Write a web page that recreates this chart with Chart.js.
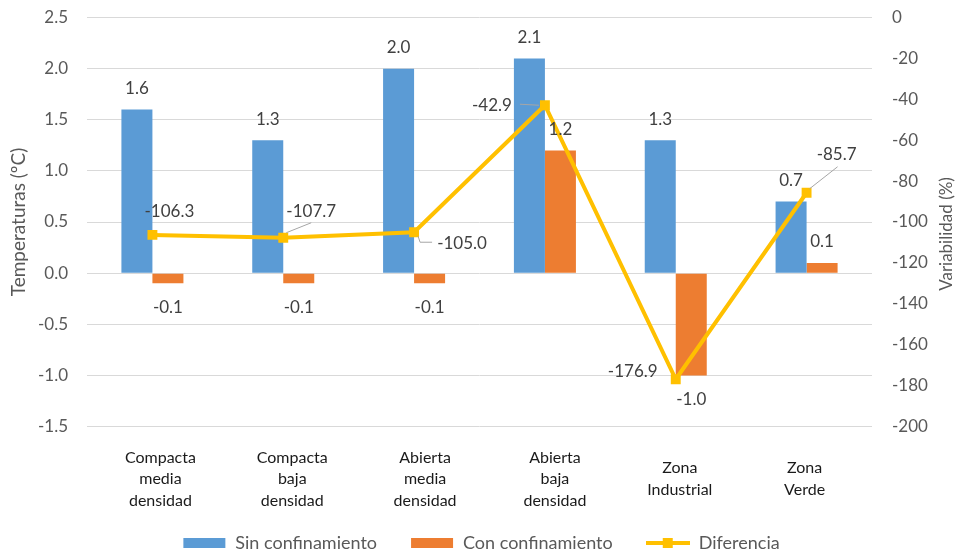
<!DOCTYPE html>
<html lang="es">
<head>
<meta charset="utf-8">
<title>Temperaturas y variabilidad por zona</title>
<script src="https://cdn.jsdelivr.net/npm/chart.js@4.4.1/dist/chart.umd.min.js"></script>
<style>
  html, body { margin: 0; padding: 0; background: #fff; }
</style>
</head>
<body>
<canvas id="grafico" width="962" height="552"></canvas>
<script>
//DATOS
const zonas = [
  ["Compacta", "media", "densidad"],
  ["Compacta", "baja", "densidad"],
  ["Abierta", "media", "densidad"],
  ["Abierta", "baja", "densidad"],
  ["Zona", "Industrial"],
  ["Zona", "Verde"],
];
const sinConfinamiento = [1.6, 1.3, 2.0, 2.1, 1.3, 0.7];
const conConfinamiento = [-0.1, -0.1, -0.1, 1.2, -1.0, 0.1];
const diferencia = [-106.3, -107.7, -105.0, -42.9, -176.9, -85.7];
const ticksTemperatura = [-1.5, -1.0, -0.5, 0.0, 0.5, 1.0, 1.5, 2.0, 2.5];
const ticksVariabilidad = [-200, -180, -160, -140, -120, -100, -80, -60, -40, -20, 0];

//COLORES
const AZUL = "#5B9BD5";
const NARANJA = "#ED7D31";
const AMARILLO = "#FFC000";
const GRIS_TEXTO = "#595959";
const GRIS_ETIQUETA = "#404040";
const GRIS_REJILLA = "#D9D9D9";

Chart.defaults.font.family = "Lato";

//FUNCIONES
// muestras de la leyenda: rectángulo para barras, línea con marcador para la serie
function muestra(tipo, color) {
  const c = document.createElement("canvas");
  c.width = 44;
  c.height = 12;
  const g = c.getContext("2d");
  g.fillStyle = color;
  if (tipo === "barra") {
    g.fillRect(1, 1, 42, 10);
  } else {
    g.fillRect(0, 4, 44, 4);
    g.fillRect(17, 1, 10, 10);
  }
  return c;
}
const muestras = [muestra("barra", AZUL), muestra("barra", NARANJA), muestra("linea", AMARILLO)];

// sin margen extra arriba/abajo para las etiquetas de los ejes verticales
function ajustarVertical(ancho) {
  return (scale) => {
    scale.width = ancho;
    scale.paddingTop = 0;
    scale.paddingBottom = 0;
  };
}

const etiquetas = {
  id: "etiquetas",
  afterDatasetsDraw(chart, args, opts) {
    const ctx = chart.ctx;
    ctx.save();
    ctx.font = "17px Lato";
    ctx.fillStyle = GRIS_ETIQUETA;
    ctx.textAlign = "center";
    ctx.textBaseline = "middle";
    [0, 1].forEach((d) => {
      const valores = chart.data.datasets[d].data;
      chart.getDatasetMeta(d).data.forEach((barra, i) => {
        const v = valores[i];
        const y = v >= 0 ? barra.y - 21 : barra.y + 24;
        ctx.fillText(v.toFixed(1), barra.x, y);
      });
    });
    const serie = chart.data.datasets[2].data;
    chart.getDatasetMeta(2).data.forEach((p, i) => {
      const guia = opts.guias[i];
      if (guia) {
        ctx.strokeStyle = "#A6A6A6";
        ctx.lineWidth = 1;
        ctx.beginPath();
        guia.forEach(([gx, gy], k) => {
          if (k === 0) ctx.moveTo(p.x + gx, p.y + gy);
          else ctx.lineTo(p.x + gx, p.y + gy);
        });
        ctx.stroke();
      }
      const [dx, dy] = opts.desplazamientos[i];
      ctx.fillText(serie[i].toFixed(1), p.x + dx, p.y + dy);
    });
    ctx.restore();
  },
  afterDraw(chart, args, opts) {
    const ctx = chart.ctx;
    const ejeX = chart.scales.x;
    const area = chart.chartArea;
    ctx.save();
    // nombres de las zonas, centrados verticalmente
    ctx.font = "16px Lato";
    ctx.fillStyle = "#1A1A1A";
    ctx.textAlign = "center";
    ctx.textBaseline = "middle";
    zonas.forEach((lineas, i) => {
      const x = ejeX.getPixelForValue(i) + opts.corrimientoZonas[i];
      const y0 = ejeX.top + 52.5 - ((lineas.length - 1) * 21.5) / 2;
      lineas.forEach((t, k) => ctx.fillText(t, x, y0 + k * 21.5));
    });
    // título del eje derecho, de abajo hacia arriba
    ctx.font = "17px Lato";
    ctx.fillStyle = GRIS_TEXTO;
    ctx.translate(947, (area.top + area.bottom) / 2 + 12);
    ctx.rotate(-Math.PI / 2);
    ctx.fillText("Variabilidad (%)", 0, 0);
    ctx.restore();
  },
};

const data = {
  labels: zonas,
  datasets: [
    {
      type: "bar",
      label: "Sin confinamiento",
      data: sinConfinamiento,
      backgroundColor: AZUL,
      yAxisID: "y",
      order: 1,
    },
    {
      type: "bar",
      label: "Con confinamiento",
      data: conConfinamiento,
      backgroundColor: NARANJA,
      yAxisID: "y",
      order: 1,
    },
    {
      type: "line",
      label: "Diferencia",
      data: diferencia,
      borderColor: AMARILLO,
      backgroundColor: AMARILLO,
      borderWidth: 4,
      pointStyle: "rect",
      pointRadius: 7,
      pointBorderWidth: 0,
      tension: 0,
      yAxisID: "y2",
      order: 0,
    },
  ],
};

const config = {
  type: "bar",
  data: data,
  plugins: [etiquetas],
  options: {
    responsive: false,
    animation: false,
    categoryPercentage: 0.474,
    barPercentage: 1,
    layout: {
      padding: { top: 17.5, left: 0, right: 0, bottom: -10 },
    },
    scales: {
      x: {
        grid: { display: false },
        border: { display: false },
        ticks: { display: false },
        afterFit: (scale) => {
          scale.height = 74.5;
        },
      },
      y: {
        position: "left",
        min: -1.5,
        max: 2.5,
        afterBuildTicks: (scale) => {
          scale.ticks = ticksTemperatura.map((v) => ({ value: v }));
        },
        ticks: {
          padding: 19,
          color: GRIS_TEXTO,
          font: { size: 17 },
          callback: (v) => Number(v).toFixed(1),
        },
        grid: { color: GRIS_REJILLA, lineWidth: 1, drawTicks: false },
        border: { display: false },
        title: {
          display: true,
          text: "Temperaturas (ºC)",
          color: GRIS_TEXTO,
          font: { size: 19 },
          padding: { top: 7, bottom: 0 },
        },
        afterFit: ajustarVertical(87),
      },
      y2: {
        position: "right",
        min: -200,
        max: 0,
        afterBuildTicks: (scale) => {
          scale.ticks = ticksVariabilidad.map((v) => ({ value: v }));
        },
        ticks: {
          padding: 20,
          color: GRIS_TEXTO,
          font: { size: 17 },
          callback: (v) => String(v),
        },
        grid: { display: false, drawTicks: false },
        border: { display: false },
        afterFit: ajustarVertical(90),
      },
    },
    plugins: {
      tooltip: { enabled: false },
      legend: {
        position: "bottom",
        labels: {
          usePointStyle: true,
          pointStyleWidth: 44,
          padding: 33,
          color: GRIS_TEXTO,
          font: { size: 18 },
          generateLabels: (chart) =>
            chart.data.datasets.map((ds, i) => ({
              text: ds.label,
              pointStyle: muestras[i],
              fillStyle: ds.backgroundColor,
              strokeStyle: ds.backgroundColor,
              lineWidth: 0,
              fontColor: GRIS_TEXTO,
              hidden: false,
              datasetIndex: i,
            })),
        },
      },
      etiquetas: {
        corrimientoZonas: [8, 9, 11, 10, 4, -2],
        desplazamientos: [
          [17, -23],
          [28, -26],
          [48, 11],
          [-53, 0],
          [-43, -8],
          [30, -38],
        ],
        guias: [
          null,
          [[3, -5], [28, -15]],
          [[4, 4], [6, 10], [18, 10]],
          [[-25, -1], [-6, 0]],
          null,
          [[3, -4], [31, -26]],
        ],
      },
    },
  },
};

//EVENTOS
const myChart = new Chart(document.getElementById("grafico"), config);
</script>
</body>
</html>
